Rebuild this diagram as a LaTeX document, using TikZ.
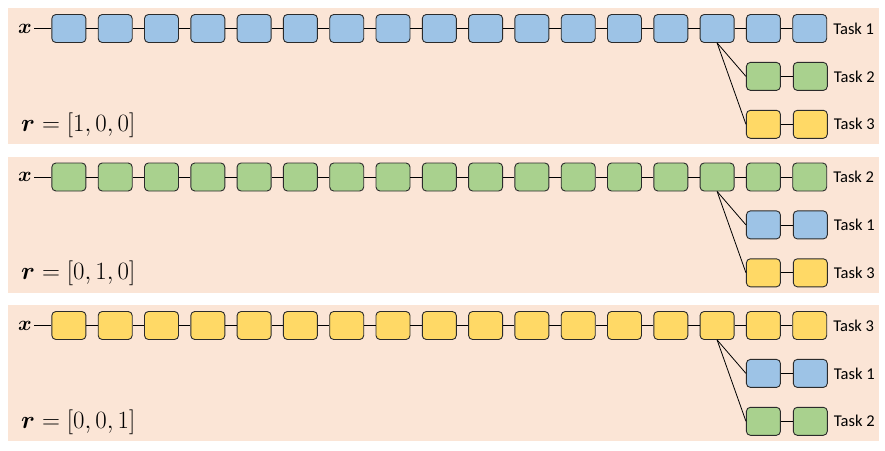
\documentclass[tikz,border=0pt]{standalone}
\usepackage{amsmath,amssymb,bm}
\usepackage{fontspec}
\newfontfamily\taskfont{Carlito}
\usetikzlibrary{positioning}
\definecolor{taskblue}{HTML}{9DC3E6}
\definecolor{taskgreen}{HTML}{A9D18E}
\definecolor{taskyellow}{HTML}{FFD966}
\definecolor{panelbg}{HTML}{FBE5D6}
\definecolor{boxline}{HTML}{2B2B2B}
\tikzset{
  blk/.style={draw=boxline,line width=0.9pt,rounded corners=4pt,minimum width=34pt,minimum height=28pt,inner sep=0pt},
  lnk/.style={line width=0.8pt},
  tasklbl/.style={font=\taskfont\fontsize{16.5}{19}\selectfont,inner sep=0pt},
}
\begin{document}
\begin{tikzpicture}[x=1pt,y=-1pt]
\useasboundingbox (0,0) rectangle (885,450);
\fill[white] (0,0) rectangle (885,450);
% one panel per leading task
\foreach \p/\cm/\ca/\cb/\tm/\ta/\tb/\rv in {0/taskblue/taskgreen/taskyellow/1/2/3/{[1,0,0]},
    1/taskgreen/taskblue/taskyellow/2/1/3/{[0,1,0]},
    2/taskyellow/taskblue/taskgreen/3/1/2/{[0,0,1]}}{
\begin{scope}[shift={(0,148.5*\p)}]
\fill[panelbg] (8,8) rectangle (879,144);
\node[font=\fontsize{21}{24}\selectfont,inner sep=2pt] (x\p) at (25,28.5) {$\bm{x}$};
\foreach \i in {1,...,17}
  \node[blk,fill=\cm] (b\p-\i) at ({68.9+46.3*(\i-1)},28.5) {};
\draw[lnk] (x\p) -- (b\p-1);
\foreach \i [evaluate=\i as \j using int(\i+1)] in {1,...,16}
  \draw[lnk] (b\p-\i) -- (b\p-\j);
\node[tasklbl,right=6pt of b\p-17] (l\p-1) {Task \tm};
% branches
\node[blk,fill=\ca,below=19pt of b\p-16] (u\p-1) {};
\node[blk,fill=\ca,right=12pt of u\p-1] (u\p-2) {};
\node[blk,fill=\cb,below=19pt of u\p-1] (v\p-1) {};
\node[blk,fill=\cb,right=12pt of v\p-1] (v\p-2) {};
\draw[lnk] (u\p-1) -- (u\p-2);
\draw[lnk] (v\p-1) -- (v\p-2);
\draw[lnk] (b\p-15.south) -- (u\p-1.west);
\draw[lnk] (b\p-15.south) -- (v\p-1.west);
\node[tasklbl,right=6pt of u\p-2] (l\p-2) {Task \ta};
\node[tasklbl,right=6pt of v\p-2] (l\p-3) {Task \tb};
\node[anchor=base west,inner sep=0pt,font=\fontsize{23}{26}\selectfont] (r\p) at (21,131) {$\bm{r}=\rv$};
\end{scope}
}
\end{tikzpicture}
\end{document}
